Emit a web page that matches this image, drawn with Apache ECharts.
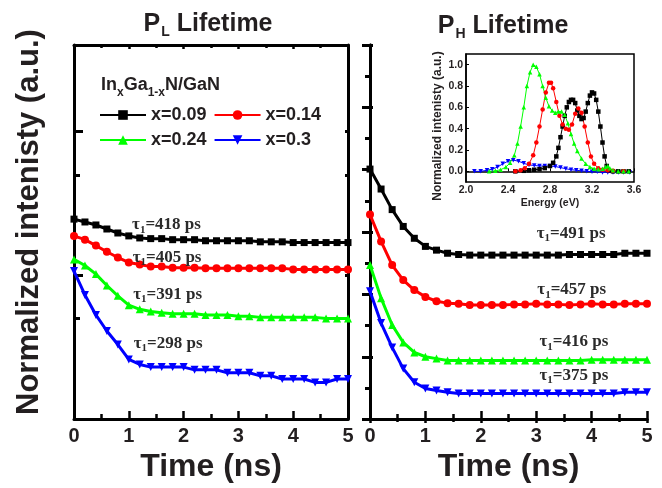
<!DOCTYPE html>
<html>
<head>
<meta charset="utf-8">
<script src="https://cdn.jsdelivr.net/npm/echarts@6/dist/echarts.min.js"></script>
<style>
  html, body { margin: 0; padding: 0; background: #fff; }
  #chart { width: 662px; height: 488px; }
</style>
</head>
<body>
<div id="chart"></div>
<script>
// Time-resolved PL decays of the low (P_L) and high (P_H) energy peaks of
// InxGa1-xN/GaN, with the normalized PL spectra as an inset.

const seriesNames = ['x=0.09', 'x=0.14', 'x=0.24', 'x=0.3'];
const colors = ['#000000', '#ff0000', '#00ff00', '#0000ff'];

// time axis of the decay traces (ns)
const timeNs = [0, 0.2, 0.4, 0.6, 0.8, 1.0, 1.2, 1.4, 1.6, 1.8, 2.0, 2.2, 2.4,
                2.6, 2.8, 3.0, 3.2, 3.4, 3.6, 3.8, 4.0, 4.2, 4.4, 4.6, 4.8, 5.0];

// P_L decays (log intensity scale)
const decayL009 = [0.246, 0.235, 0.224, 0.210, 0.197, 0.188, 0.182, 0.180, 0.180, 0.177, 0.177, 0.177, 0.174,
                   0.174, 0.174, 0.174, 0.174, 0.171, 0.171, 0.171, 0.169, 0.169, 0.169, 0.169, 0.169, 0.169];
const decayL014 = [0.188, 0.177, 0.161, 0.146, 0.133, 0.123, 0.119, 0.115, 0.115, 0.113, 0.113, 0.113, 0.112,
                   0.112, 0.112, 0.112, 0.112, 0.112, 0.112, 0.112, 0.110, 0.110, 0.110, 0.110, 0.110, 0.110];
const decayL024 = [0.129, 0.117, 0.102, 0.085, 0.072, 0.062, 0.058, 0.056, 0.055, 0.054, 0.054, 0.054, 0.053,
                   0.053, 0.053, 0.052, 0.052, 0.051, 0.051, 0.051, 0.051, 0.051, 0.051, 0.050, 0.050, 0.050];
const decayL030 = [0.107, 0.073, 0.053, 0.041, 0.033, 0.026, 0.024, 0.023, 0.023, 0.023, 0.023, 0.022, 0.022,
                   0.022, 0.021, 0.021, 0.021, 0.020, 0.020, 0.019, 0.019, 0.019, 0.018, 0.018, 0.019, 0.019];

// P_H decays (linear intensity scale, traces offset)
const decayH009 = [4.01, 3.69, 3.36, 3.09, 2.90, 2.77, 2.71, 2.66, 2.64, 2.63, 2.63, 2.63, 2.63,
                   2.63, 2.63, 2.63, 2.63, 2.63, 2.64, 2.64, 2.64, 2.64, 2.64, 2.66, 2.66, 2.66];
const decayH014 = [3.28, 2.85, 2.47, 2.23, 2.07, 1.96, 1.89, 1.86, 1.85, 1.83, 1.83, 1.83, 1.83,
                   1.84, 1.84, 1.85, 1.84, 1.84, 1.83, 1.84, 1.85, 1.84, 1.84, 1.85, 1.85, 1.85];
const decayH024 = [2.47, 1.94, 1.51, 1.23, 1.07, 1.00, 0.97, 0.94, 0.94, 0.94, 0.94, 0.94, 0.94,
                   0.94, 0.94, 0.94, 0.94, 0.94, 0.94, 0.94, 0.95, 0.95, 0.95, 0.95, 0.95, 0.95];
const decayH030 = [2.05, 1.54, 1.15, 0.81, 0.59, 0.49, 0.46, 0.43, 0.41, 0.41, 0.41, 0.41, 0.41,
                   0.41, 0.41, 0.41, 0.41, 0.41, 0.41, 0.41, 0.41, 0.41, 0.41, 0.43, 0.43, 0.43];

// fitted fast lifetimes (ps) and where their labels sit [time, intensity]
const tauL = [418, 405, 391, 298];
const tauLAt = [[1.06, 0.224], [1.07, 0.133], [1.08, 0.074], [1.09, 0.0335]];
const tauH = [491, 457, 416, 375];
const tauHAt = [[3.01, 2.98], [3.02, 2.07], [3.06, 1.24], [3.06, 0.70]];

// PL spectra (energy in eV, normalized intensity)
const specE009 = [2.47, 2.55, 2.60, 2.65, 2.70, 2.75, 2.80, 2.83, 2.86, 2.88, 2.90, 2.92, 2.94, 2.96, 2.98, 3.00,
                  3.02, 3.04, 3.06, 3.08, 3.10, 3.12, 3.14, 3.16, 3.18, 3.20, 3.22, 3.24, 3.26, 3.28, 3.30,
                  3.32, 3.34, 3.36, 3.40, 3.45, 3.50, 3.55];
const specI009 = [0.0, 0.005, 0.01, 0.015, 0.02, 0.03, 0.05, 0.08, 0.14, 0.22, 0.32, 0.42, 0.52, 0.60, 0.65, 0.67,
                  0.67, 0.64, 0.57, 0.52, 0.49, 0.50, 0.56, 0.64, 0.71, 0.74, 0.73, 0.67, 0.56, 0.42, 0.27,
                  0.14, 0.05, 0.01, 0.0, 0.0, 0.0, 0.0];
const specE014 = [2.47, 2.52, 2.56, 2.60, 2.64, 2.67, 2.70, 2.73, 2.76, 2.79, 2.81, 2.83, 2.86, 2.89, 2.92, 2.95,
                  2.98, 3.01, 3.04, 3.07, 3.10, 3.13, 3.16, 3.19, 3.22, 3.26, 3.30, 3.35, 3.40, 3.50];
const specI014 = [0.0, 0.01, 0.03, 0.07, 0.15, 0.27, 0.42, 0.58, 0.74, 0.83, 0.83, 0.78, 0.65, 0.52, 0.44, 0.40,
                  0.39, 0.44, 0.54, 0.59, 0.55, 0.42, 0.27, 0.14, 0.07, 0.03, 0.015, 0.01, 0.005, 0.0];
const specE024 = [2.22, 2.28, 2.33, 2.38, 2.42, 2.46, 2.49, 2.52, 2.55, 2.58, 2.61, 2.64, 2.67, 2.70, 2.73, 2.76,
                  2.79, 2.82, 2.85, 2.88, 2.91, 2.94, 2.97, 3.00, 3.03, 3.06, 3.10, 3.14, 3.18, 3.22, 3.26,
                  3.30, 3.33, 3.35, 3.37, 3.40, 3.45, 3.50, 3.55];
const specI024 = [0.0, 0.005, 0.015, 0.04, 0.08, 0.15, 0.26, 0.42, 0.60, 0.80, 0.93, 1.00, 0.98, 0.91, 0.80, 0.69,
                  0.61, 0.57, 0.55, 0.56, 0.56, 0.53, 0.45, 0.35, 0.26, 0.19, 0.12, 0.07, 0.04, 0.025, 0.02,
                  0.025, 0.04, 0.05, 0.03, 0.01, 0.0, 0.0, 0.0];
const specE030 = [2.08, 2.14, 2.20, 2.25, 2.30, 2.35, 2.40, 2.45, 2.50, 2.55, 2.60, 2.65, 2.70, 2.75, 2.80, 2.85,
                  2.90, 2.95, 3.00, 3.05, 3.10, 3.15, 3.20, 3.25, 3.30, 3.35, 3.40, 3.45, 3.50, 3.56];
const specI030 = [0.0, 0.0, 0.01, 0.02, 0.04, 0.07, 0.095, 0.105, 0.095, 0.075, 0.06, 0.055, 0.05, 0.05, 0.05, 0.045,
                  0.035, 0.025, 0.015, 0.01, 0.005, 0.0, -0.005, -0.005, -0.01, -0.01, -0.01, -0.01, -0.01, -0.01];

// tick positions
const logMajorTicks = [0.1, 1];
const logMinorTicks = [0.05, 0.5];
const insetYTicks = [0, 0.2, 0.4, 0.6, 0.8, 1.0];

const SANS = 'Arial, "Liberation Sans", Helvetica, sans-serif';
const SERIF = '"Times New Roman", "Liberation Serif", serif';
const INK = '#231f20';

const symbols = ['rect', 'circle', 'triangle', 'path://M0,0L10,0L5,9Z'];
const mainSymbolSize = [7, 8, 8, 8];

function pairs(xs, ys) { return xs.map((x, i) => [x, ys[i]]); }

const tauRich = {
  t: { fontFamily: SERIF, fontWeight: 'bold', fontSize: 17, color: '#2b2b2b' },
  s: { fontFamily: SERIF, fontWeight: 'bold', fontSize: 11, color: '#2b2b2b', padding: [10, 0, 0, 0] }
};

function decaySeries(i, values, xIdx, yIdx, tau, at) {
  return {
    name: seriesNames[i], type: 'line', xAxisIndex: xIdx, yAxisIndex: yIdx,
    data: pairs(timeNs, values),
    symbol: symbols[i], symbolSize: mainSymbolSize[i],
    lineStyle: { width: 3, color: colors[i] },
    itemStyle: { color: colors[i] },
    markPoint: {
      silent: true, symbol: 'circle', symbolSize: 0, animation: false,
      itemStyle: { color: 'transparent' },
      label: {
        show: true, position: 'right', distance: 0,
        formatter: '{t|τ}{s|1}{t|=' + tau + ' ps}', rich: tauRich
      },
      data: [{ coord: at }]
    }
  };
}

function spectrumSeries(i, energy, intensity) {
  return {
    name: seriesNames[i], type: 'line', xAxisIndex: 4, yAxisIndex: 5,
    data: pairs(energy, intensity),
    symbol: symbols[i], symbolSize: 4.5,
    lineStyle: { width: 1, color: colors[i] },
    itemStyle: { color: colors[i] }
  };
}

const frameLine = { show: true, lineStyle: { color: '#000', width: 3 } };
const noLabel = { show: false };
const noSplit = { show: false };

function timeAxis(grid, bottom) {
  return {
    type: 'value', gridIndex: grid, position: bottom ? 'bottom' : 'top',
    min: 0, max: 5, interval: 1,
    axisLine: frameLine,
    axisTick: { show: true, inside: true, length: bottom ? 8 : 4, lineStyle: { width: 2.5, color: '#000' } },
    minorTick: { show: true, splitNumber: 2, length: bottom ? 5 : 3, lineStyle: { width: 2.5, color: '#000' } },
    axisLabel: bottom ? { show: true, margin: 7, fontFamily: SANS, fontWeight: 'bold', fontSize: 20, color: INK } : noLabel,
    splitLine: noSplit,
    name: bottom ? 'Time (ns)' : '',
    nameLocation: 'middle', nameGap: 28,
    nameTextStyle: { fontFamily: SANS, fontWeight: 'bold', fontSize: 32, color: INK }
  };
}

const titleRich = {
  p: { fontFamily: SANS, fontWeight: 'bold', fontSize: 25, color: INK },
  s: { fontFamily: SANS, fontWeight: 'bold', fontSize: 14, color: INK, padding: [15, 0, 0, 1] }
};

const option = {
  animation: false,
  backgroundColor: '#ffffff',
  title: [
    {
      text: '{p|P}{s|L}{p| Lifetime}', left: 203, top: 5, textAlign: 'center',
      textStyle: { rich: titleRich }
    },
    {
      text: '{p|P}{s|H}{p| Lifetime}', left: 498, top: 7, textAlign: 'center',
      textStyle: { rich: titleRich }
    },
    {
      text: '{m|In}{s|x}{m|Ga}{s|1-x}{m|N/GaN}', left: 96, top: 66,
      textStyle: { rich: {
        m: { fontFamily: SANS, fontWeight: 'bold', fontSize: 18, color: INK },
        s: { fontFamily: SANS, fontWeight: 'bold', fontSize: 12, color: INK, padding: [16, 0, 0, 0] }
      } }
    }
  ],
  legend: {
    data: seriesNames, selectedMode: false,
    left: 94, top: 101, width: 230, orient: 'horizontal',
    itemWidth: 46, itemHeight: 12, itemGap: 7,
    textStyle: { fontFamily: SANS, fontWeight: 'bold', fontSize: 18, color: INK, lineHeight: 15 }
  },
  grid: [
    { left: 74, top: 45, width: 274, height: 377 },
    { left: 370, top: 45, width: 277, height: 377 },
    { left: 466, top: 54, width: 168, height: 128, show: true, backgroundColor: '#fff', borderColor: '#000', borderWidth: 1.5 }
  ],
  xAxis: [
    timeAxis(0, true),
    timeAxis(0, false),
    timeAxis(1, true),
    timeAxis(1, false),
    {
      type: 'value', gridIndex: 2, position: 'bottom', min: 2.0, max: 3.6, interval: 0.4,
      axisLine: { show: true, lineStyle: { color: '#000', width: 1.5 } },
      axisTick: { show: true, inside: true, length: 3, lineStyle: { color: '#000', width: 1 } },
      axisLabel: { show: true, margin: 3, fontFamily: SANS, fontWeight: 'bold', fontSize: 10.5, color: INK,
                   formatter: v => v.toFixed(1) },
      splitLine: noSplit,
      name: 'Energy (eV)', nameLocation: 'middle', nameGap: 16,
      nameTextStyle: { fontFamily: SANS, fontWeight: 'bold', fontSize: 10.5, color: INK }
    }
  ],
  yAxis: [
    {
      type: 'log', logBase: 10, gridIndex: 0, position: 'left', min: 0.01, max: 4,
      axisLine: frameLine,
      axisTick: { show: true, inside: true, length: 9, customValues: logMajorTicks, lineStyle: { width: 3, color: '#000' } },
      axisLabel: noLabel, splitLine: noSplit,
      name: 'Normalized intenisty (a.u.)', nameLocation: 'middle', nameGap: 29,
      nameTextStyle: { fontFamily: SANS, fontWeight: 'bold', fontSize: 31, color: INK, padding: [0, 0, 0, 20] }
    },
    {
      type: 'log', logBase: 10, gridIndex: 0, position: 'left', min: 0.01, max: 4,
      axisLine: { show: false },
      axisTick: { show: true, inside: true, length: 6, customValues: logMinorTicks, lineStyle: { width: 3, color: '#000' } },
      axisLabel: noLabel, splitLine: noSplit
    },
    {
      type: 'log', logBase: 10, gridIndex: 0, position: 'right', min: 0.01, max: 4,
      axisLine: frameLine,
      axisTick: { show: true, inside: true, length: 3, customValues: logMajorTicks.concat(logMinorTicks),
                  lineStyle: { width: 3, color: '#000' } },
      axisLabel: noLabel, splitLine: noSplit
    },
    {
      type: 'value', gridIndex: 1, position: 'left', min: 0, max: 6, interval: 1,
      axisLine: frameLine,
      axisTick: { show: true, inside: false, length: 8, lineStyle: { width: 3, color: '#000' } },
      minorTick: { show: true, splitNumber: 2, length: 5, lineStyle: { width: 3, color: '#000' } },
      axisLabel: noLabel, splitLine: noSplit
    },
    {
      type: 'value', gridIndex: 1, position: 'right', min: 0, max: 6, interval: 1,
      axisLine: frameLine,
      axisTick: { show: true, inside: false, length: 3, lineStyle: { width: 3, color: '#000' } },
      minorTick: { show: true, splitNumber: 2, length: 2, lineStyle: { width: 3, color: '#000' } },
      axisLabel: noLabel, splitLine: noSplit
    },
    {
      type: 'value', gridIndex: 2, position: 'left', min: -0.1, max: 1.1,
      axisLine: { show: true, lineStyle: { color: '#000', width: 1.5 } },
      axisTick: { show: true, inside: true, length: 3, customValues: insetYTicks, lineStyle: { color: '#000', width: 1 } },
      axisLabel: { show: true, margin: 3, customValues: insetYTicks, fontFamily: SANS, fontWeight: 'bold',
                   fontSize: 10.5, color: INK, formatter: v => v.toFixed(1) },
      splitLine: noSplit,
      name: 'Normalized intenisty (a.u.)', nameLocation: 'middle', nameGap: 22,
      nameTextStyle: { fontFamily: SANS, fontWeight: 'bold', fontSize: 12, color: INK, padding: [0, 16, 0, 0] }
    }
  ],
  series: [
    decaySeries(0, decayL009, 0, 0, tauL[0], tauLAt[0]),
    decaySeries(1, decayL014, 0, 0, tauL[1], tauLAt[1]),
    decaySeries(2, decayL024, 0, 0, tauL[2], tauLAt[2]),
    decaySeries(3, decayL030, 0, 0, tauL[3], tauLAt[3]),
    decaySeries(0, decayH009, 2, 3, tauH[0], tauHAt[0]),
    decaySeries(1, decayH014, 2, 3, tauH[1], tauHAt[1]),
    decaySeries(2, decayH024, 2, 3, tauH[2], tauHAt[2]),
    decaySeries(3, decayH030, 2, 3, tauH[3], tauHAt[3]),
    spectrumSeries(3, specE030, specI030),
    spectrumSeries(0, specE009, specI009),
    spectrumSeries(1, specE014, specI014),
    spectrumSeries(2, specE024, specI024)
  ]
};

const chart = echarts.init(document.getElementById('chart'), null, { renderer: 'canvas' });
chart.setOption(option);
</script>
</body>
</html>
